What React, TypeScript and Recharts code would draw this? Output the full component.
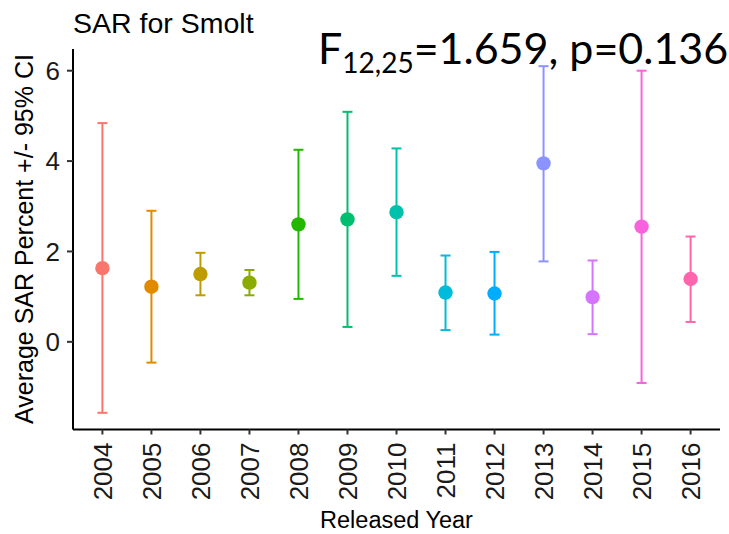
import React from "react";
import {
  ScatterChart,
  Scatter,
  XAxis,
  YAxis,
  ErrorBar,
  Label,
} from "recharts";

// values
const years = [2004, 2005, 2006, 2007, 2008, 2009, 2010, 2011, 2012, 2013, 2014, 2015, 2016];
const means = [1.63, 1.22, 1.5, 1.31, 2.6, 2.71, 2.87, 1.09, 1.07, 3.95, 0.99, 2.55, 1.39];
const lower = [-1.57, -0.46, 1.03, 1.03, 0.95, 0.33, 1.46, 0.26, 0.16, 1.78, 0.17, -0.91, 0.44];
const upper = [4.84, 2.9, 1.97, 1.59, 4.25, 5.09, 4.28, 1.91, 1.99, 6.1, 1.8, 6.0, 2.33];
const yTicks = [0, 2, 4, 6];

// ggplot default hue palette for 13 groups
const colors = [
  "#F8766D", "#E18A00", "#BE9C00", "#8CAB00", "#24B700", "#00BE70", "#00C1AB",
  "#00BBDA", "#00ACFC", "#8B93FF", "#D575FE", "#F962DD", "#FF65AC",
];

const rows = years.map((year, i) => ({
  year,
  mean: means[i],
  ci: [means[i] - lower[i], upper[i] - means[i]],
}));

const FONT = "'Liberation Sans', Arial, sans-serif";

const XTick = ({ x, y, payload }: any) => (
  <text
    x={x}
    y={y}
    dy="0.36em"
    transform={`rotate(-90, ${x}, ${y})`}
    textAnchor="end"
    fontFamily={FONT}
    fontSize={26}
    fill="#1a1a1a"
  >
    {payload.value}
  </text>
);

const App = () => {
  return (
    <div style={{ position: "absolute", left: 0, top: 0, background: "#fff" }}>
      <ScatterChart
        width={729}
        height={534}
        margin={{ top: 49, right: 9, bottom: 0, left: 0 }}
      >
        <XAxis
          type="number"
          dataKey="year"
          domain={[2003.4, 2016.6]}
          ticks={years}
          interval={0}
          height={104.5}
          tickSize={5}
          tickMargin={8}
          tick={<XTick />}
          axisLine={{ stroke: "#000", strokeWidth: 2 }}
          tickLine={{ stroke: "#333", strokeWidth: 2 }}
        >
          <Label
            content={() => (
              <text
                x={396.5}
                y={528}
                textAnchor="middle"
                fontFamily={FONT}
                fontSize={23.5}
                fill="#000"
              >
                Released Year
              </text>
            )}
          />
        </XAxis>
        <YAxis
          type="number"
          dataKey="mean"
          domain={[-1.94, 6.48]}
          ticks={yTicks}
          width={73}
          tickSize={6}
          tickMargin={7}
          tick={{ fontFamily: FONT, fontSize: 26, fill: "#1a1a1a" }}
          axisLine={{ stroke: "#000", strokeWidth: 2 }}
          tickLine={{ stroke: "#333", strokeWidth: 2 }}
        >
          <Label
            content={() => (
              <g>
                <text
                  x={33}
                  y={239}
                  transform="rotate(-90, 33, 239)"
                  textAnchor="middle"
                  fontFamily={FONT}
                  fontSize={25}
                  fill="#000"
                >
                  Average SAR Percent +/- 95% CI
                </text>
                <text x={73} y={33} fontFamily={FONT} fontSize={28.5} fill="#000">
                  SAR for Smolt
                </text>
                <text x={318} y={64} fontFamily="Lato, sans-serif" fontSize={43} fill="#000">
                  <tspan>F</tspan>
                  <tspan dy={8.5} fontSize={28}>12,25</tspan>
                  <tspan dy={-8.5}>=1.659, p=0.136</tspan>
                </text>
              </g>
            )}
          />
        </YAxis>
        {rows.map((row, i) => (
          <Scatter
            key={row.year}
            data={[row]}
            fill={colors[i]}
            isAnimationActive={false}
            shape={(p: any) => <circle cx={p.cx} cy={p.cy} r={7.2} fill={colors[i]} />}
          >
            <ErrorBar
              dataKey="ci"
              direction="y"
              width={5}
              stroke={colors[i]}
              strokeWidth={2}
              isAnimationActive={false}
            />
          </Scatter>
        ))}
      </ScatterChart>
    </div>
  );
};

export default App;
